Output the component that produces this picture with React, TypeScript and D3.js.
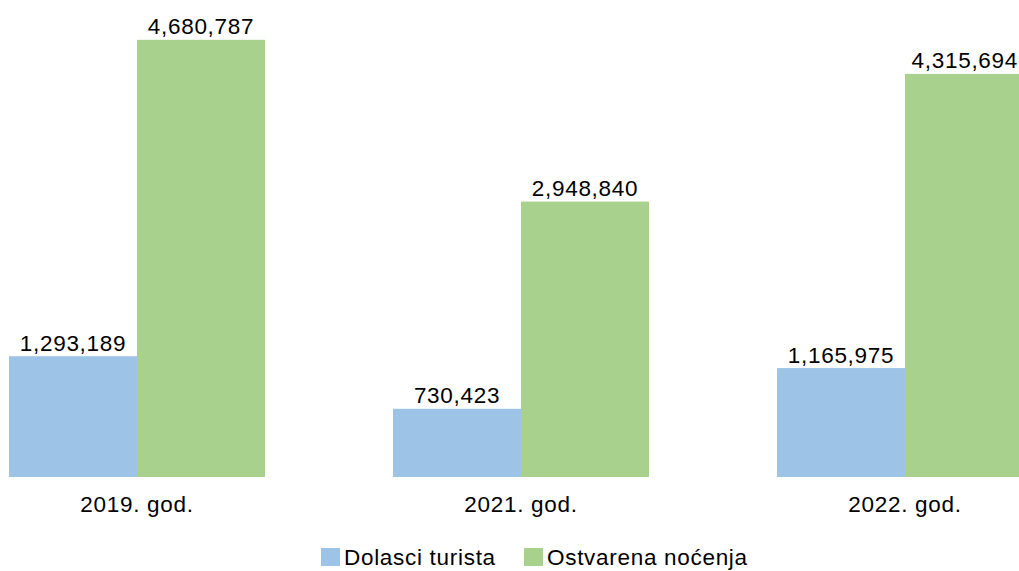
import React from "react";
import * as d3 from "d3";

const years = ["2019. god.", "2021. god.", "2022. god."];
const seriesNames = ["Dolasci turista", "Ostvarena noćenja"];
const arrivals = [1293189, 730423, 1165975];
const nights = [4680787, 2948840, 4315694];
const colors = ["#9DC3E6", "#A9D18E"];

export default function App() {
    const ref = React.useRef<SVGSVGElement>(null);

    React.useEffect(() => {
        const width = 1019;
        const height = 571;
        const baseline = 477;
        const font = "Liberation Sans, Arial, sans-serif";
        const fontSize = 22.5;
        const spacing = 0.7;

        const svg = d3
            .select(ref.current)
            .attr("width", width)
            .attr("height", height)
            .attr("viewBox", [0, 0, width, height]);

        // each group is 384px wide, first bar starts at x=9
        const x = d3
            .scaleBand()
            .domain(years)
            .range([-55, -55 + 384 * 3])
            .paddingInner(0)
            .paddingOuter(0);

        const xSub = d3
            .scaleBand()
            .domain(seriesNames)
            .range([64, 320]);

        const y = d3.scaleLinear().domain([0, 5000000]).range([baseline, 10]);

        const rows = years.map((yr, i) => ({
            year: yr,
            values: [arrivals[i], nights[i]],
        }));

        const groups = svg
            .append("g")
            .selectAll("g")
            .data(rows)
            .join("g")
            .attr("transform", (d) => `translate(${x(d.year)},0)`);

        groups
            .selectAll("rect")
            .data((d) => d.values.map((v, j) => ({ v, j })))
            .join("rect")
            .attr("x", (d) => xSub(seriesNames[d.j]))
            .attr("y", (d) => y(d.v))
            .attr("width", xSub.bandwidth())
            .attr("height", (d) => baseline - y(d.v))
            .attr("fill", (d) => colors[d.j]);

        const labels = groups
            .selectAll("text.val")
            .data((d) => d.values.map((v, j) => ({ v, j })))
            .join("text")
            .attr("class", "val")
            .attr("x", (d) => xSub(seriesNames[d.j]) + xSub.bandwidth() / 2)
            .attr("y", (d) => y(d.v) - 5.5)
            .attr("text-anchor", "middle")
            .attr("font-family", font)
            .attr("font-size", fontSize)
            .attr("letter-spacing", spacing)
            .attr("fill", "#000")
            .text((d) => d3.format(",")(d.v));

        // keep labels inside the chart area (last bar is cut by the edge)
        labels.each(function () {
            const box = (this as SVGTextElement).getBoundingClientRect();
            const over = box.right - (width - 1);
            if (over > 0) {
                const cur = +d3.select(this).attr("x");
                d3.select(this).attr("x", cur - over);
            }
        });

        groups
            .append("text")
            .attr("x", 192)
            .attr("y", 512)
            .attr("text-anchor", "middle")
            .attr("font-family", font)
            .attr("font-size", fontSize)
            .attr("letter-spacing", spacing)
            .attr("fill", "#000")
            .text((d) => d.year);

        // legend
        const legendX = [321, 524];
        const legend = svg
            .append("g")
            .selectAll("g")
            .data(seriesNames)
            .join("g")
            .attr("transform", (d, i) => `translate(${legendX[i]},548)`);

        legend
            .append("rect")
            .attr("width", 19)
            .attr("height", 18)
            .attr("fill", (d, i) => colors[i]);

        legend
            .append("text")
            .attr("x", 23)
            .attr("y", 16.5)
            .attr("font-family", font)
            .attr("font-size", fontSize)
            .attr("letter-spacing", spacing)
            .attr("fill", "#000")
            .text((d) => d);

        return () => {
            svg.selectAll("*").remove();
        };
    }, []);

    return (
        <div style={{ position: "absolute", left: 0, top: 0 }}>
            <svg ref={ref} style={{ display: "block" }}></svg>
        </div>
    );
}
